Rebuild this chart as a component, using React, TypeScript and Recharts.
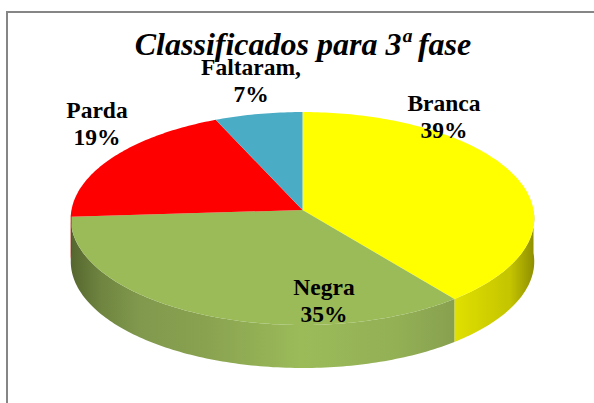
import { Pie, PieChart } from 'recharts';

const categories = ['Branca', 'Negra', 'Parda', 'Faltaram,'];
// the labels show them rounded
const values = [39.4, 34.5, 19.4, 6.6];
const colors = ['#ffff00', '#9bbb59', '#ff0000', '#4bacc6'];
const sideFills = ['url(#sideYellow)', 'url(#sideGreen)', '#ee0000', '#3f93a9'];
// where each two line label sits (centre x, first baseline y)
const labelPos = [[444, 111], [324, 295], [97, 118], [251, 75]];

const pieData = categories.map((name, i) => ({ name, value: values[i], fill: colors[i] }));

const TILT = 0.458; // ry / rx
const PERSP = 0.08; // far edge is smaller than the near edge
const DEPTH = 43;

// circle angle -> point on the tilted disc
const project = (cx: number, cy: number, r: number, deg: number) => {
    const a = (deg * Math.PI) / 180;
    const w = 1 + PERSP * Math.sin(a);
    return [cx + (r * Math.cos(a)) / w, cy - (r * TILT * Math.sin(a)) / w];
};

const arcPoints = (cx: number, cy: number, r: number, from: number, to: number) => {
    const n = Math.max(2, Math.ceil(Math.abs(to - from)));
    const pts: number[][] = [];
    for (let i = 0; i <= n; i++) {
        pts.push(project(cx, cy, r, from + ((to - from) * i) / n));
    }
    return pts;
};

const toPath = (pts: number[][]) =>
    pts.map((p, i) => `${i === 0 ? 'M' : 'L'}${p[0].toFixed(2)},${p[1].toFixed(2)}`).join(' ') + ' Z';

// wall below the front half of the disc, angles 180..360
const sidePath = (cx: number, cy: number, r: number, start: number, end: number) => {
    let lo = Math.min(start, end);
    let hi = Math.max(start, end);
    while (lo < 0) {
        lo += 360;
        hi += 360;
    }
    const from = Math.max(lo, 180);
    const to = Math.min(hi, 360);
    if (to <= from) return null;
    const top = arcPoints(cx, cy, r, from, to);
    const bottom = top.map((p) => [p[0], p[1] + DEPTH]).reverse();
    return toPath([...top, ...bottom]);
};

const Slice3D = (props: any) => {
    const { cx, cy, outerRadius, startAngle, endAngle, fill, index } = props;
    const side = sidePath(cx, cy, outerRadius, startAngle, endAngle);
    const top = toPath([[cx, cy], ...arcPoints(cx, cy, outerRadius, startAngle, endAngle)]);
    return (
        <g>
            {side && <path d={side} fill={sideFills[index]} />}
            <path d={top} fill={fill} />
        </g>
    );
};

const SliceLabel = (props: any) => {
    const { index, name, value } = props;
    const [x, y] = labelPos[index];
    return (
        <text textAnchor="middle" fontFamily="'Liberation Serif'" fontWeight="bold" fontSize={23.5} fill="#000">
            <tspan x={x} y={y}>{name}</tspan>
            <tspan x={x} y={y + 27}>{Math.round(value)}%</tspan>
        </text>
    );
};

export default function App() {
    return (
        <div style={{ position: 'absolute', left: 0, top: 0, width: 594, height: 403, overflow: 'hidden', background: '#fff' }}>
            <div style={{ position: 'absolute', left: 6, top: 11, width: 620, height: 430, border: '2px solid #868686' }} />
            <PieChart width={594} height={403} margin={{ top: 0, right: 0, bottom: 0, left: 0 }} style={{ position: 'absolute', left: 0, top: 0 }}>
                <defs>
                    <linearGradient id="sideGreen" gradientUnits="userSpaceOnUse" x1={71} y1={0} x2={455} y2={0}>
                        <stop offset="0" stopColor="#56672f" />
                        <stop offset="0.08" stopColor="#6f8540" />
                        <stop offset="0.18" stopColor="#81994d" />
                        <stop offset="0.35" stopColor="#89a250" />
                        <stop offset="0.6" stopColor="#9bbb59" />
                        <stop offset="0.85" stopColor="#93b055" />
                        <stop offset="1" stopColor="#87a04f" />
                    </linearGradient>
                    <linearGradient id="sideYellow" gradientUnits="userSpaceOnUse" x1={455} y1={0} x2={534} y2={0}>
                        <stop offset="0" stopColor="#e0e000" />
                        <stop offset="0.35" stopColor="#d2d200" />
                        <stop offset="0.7" stopColor="#c4c400" />
                        <stop offset="1" stopColor="#8f8f00" />
                    </linearGradient>
                </defs>
                <text x={303} y={55} textAnchor="middle" fontFamily="'Liberation Serif'" fontStyle="italic" fontWeight="bold" fontSize={32} fill="#000">
                    Classificados para 3ª fase
                </text>
                <Pie
                    data={pieData}
                    dataKey="value"
                    nameKey="name"
                    cx={302.5}
                    cy={210}
                    outerRadius={231}
                    startAngle={90}
                    endAngle={-270}
                    stroke="none"
                    shape={Slice3D}
                    label={SliceLabel}
                    labelLine={false}
                    isAnimationActive={false}
                />
            </PieChart>
        </div>
    );
}
